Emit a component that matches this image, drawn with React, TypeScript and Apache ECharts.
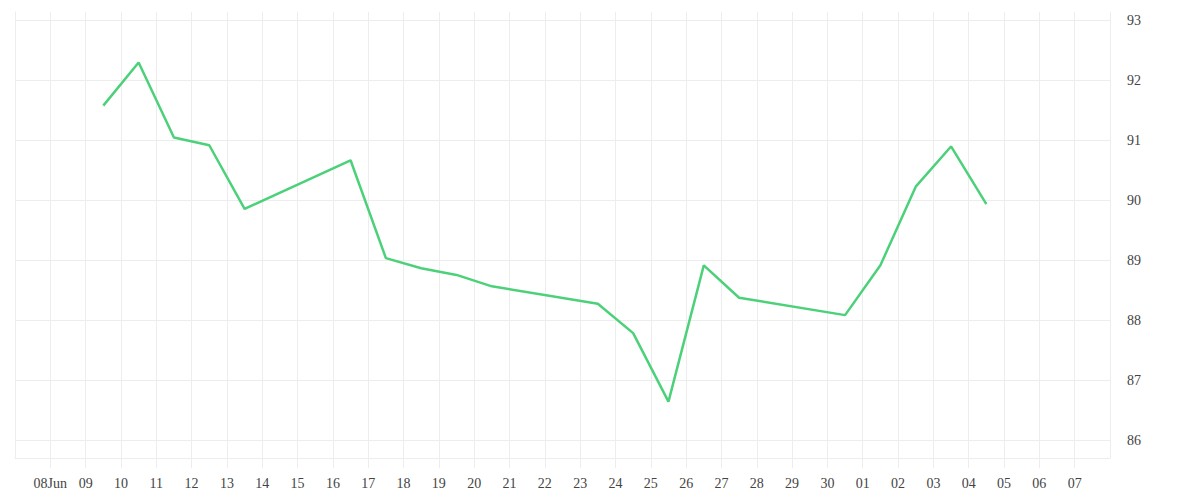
import React, { useEffect, useRef } from "react";
import * as echarts from "echarts";

const startDate = "2014-06-07";
const endDate = "2014-07-08";
const monthNames = ["Jan", "Feb", "Mar", "Apr", "May", "Jun", "Jul", "Aug", "Sep", "Oct", "Nov", "Dec"];

const dates = [
  "2014-06-09", "2014-06-10", "2014-06-11", "2014-06-12", "2014-06-13",
  "2014-06-16", "2014-06-17", "2014-06-18", "2014-06-19", "2014-06-20",
  "2014-06-23", "2014-06-24", "2014-06-25", "2014-06-26", "2014-06-27",
  "2014-06-30", "2014-07-01", "2014-07-02", "2014-07-03", "2014-07-04",
];
const values = [
  91.58, 92.30, 91.05, 90.92, 89.86,
  90.67, 89.04, 88.87, 88.76, 88.57,
  88.28, 87.79, 86.65, 88.92, 88.38,
  88.09, 88.92, 90.23, 90.90, 89.94,
];
const yTicks = [86, 87, 88, 89, 90, 91, 92, 93];
const yMin = 85.71;
const yMax = 93.14;

const DAY = 86400000;
const dayIndex = (d: string) => (Date.parse(d) - Date.parse(startDate)) / DAY;

export default function App() {
  const ref = useRef<HTMLDivElement>(null);
  useEffect(() => {
    if (!ref.current) return;
    const chart = echarts.init(ref.current, undefined, { renderer: "svg" });
    const xMax = dayIndex(endDate);
    const gridColor = "#ededed";
    const labelColor = "#444";
    chart.setOption({
      animation: false,
      textStyle: { fontFamily: "Liberation Serif" },
      grid: { left: 15, right: 90, top: 12, bottom: 42, containLabel: false },
      xAxis: {
        type: "value",
        min: 0,
        max: xMax,
        interval: 1,
        axisLine: { show: true, lineStyle: { color: gridColor } },
        axisTick: { show: true, length: 10, lineStyle: { color: gridColor } },
        splitLine: { show: true, lineStyle: { color: gridColor } },
        axisLabel: {
          margin: 18,
          fontSize: 14,
          color: labelColor,
          fontFamily: "Liberation Serif",
          showMinLabel: false,
          showMaxLabel: false,
          formatter: (v: number) => {
            if (v <= 0 || v >= xMax) return "";
            const dt = new Date(Date.parse(startDate) + v * DAY);
            const d = String(dt.getUTCDate()).padStart(2, "0");
            return v === 1 ? d + monthNames[dt.getUTCMonth()] : d;
          },
        },
      },
      yAxis: {
        type: "value",
        position: "right",
        min: yMin,
        max: yMax,
        splitNumber: 7,
        axisLine: { show: true, lineStyle: { color: gridColor } },
        axisTick: { show: false },
        splitLine: { show: false },
        axisLabel: {
          margin: 17,
          fontSize: 14,
          color: labelColor,
          fontFamily: "Liberation Serif",
          showMinLabel: false,
          showMaxLabel: false,
          formatter: (v: number) =>
            Math.abs(v - Math.round(v)) < 1e-6 ? String(Math.round(v)) : "",
        },
      },
      series: [
        {
          type: "line",
          data: [],
          z: 1,
          silent: true,
          markLine: {
            silent: true,
            symbol: ["none", "none"],
            label: { show: false },
            lineStyle: { color: gridColor, type: "solid", width: 1 },
            data: yTicks.map((v) => ({ yAxis: v })),
          },
        },
        {
          type: "line",
          data: dates.map((d, i) => [dayIndex(d) + 0.5, values[i]]),
          symbol: "none",
          lineStyle: { color: "#4cd17a", width: 2.5 },
          itemStyle: { color: "#4cd17a" },
          z: 5,
        },
      ],
    });
    return () => chart.dispose();
  }, []);
  return (
    <div
      ref={ref}
      style={{ position: "fixed", left: 0, top: 0, width: 1200, height: 500, background: "#fff" }}
    />
  );
}
